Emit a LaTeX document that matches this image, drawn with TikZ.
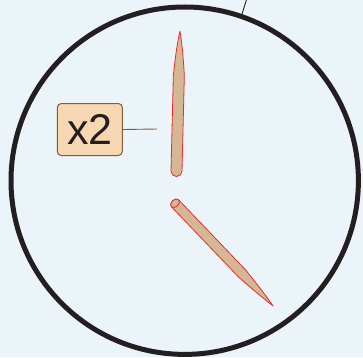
\documentclass[tikz,border=0pt]{standalone}
\usepackage{fontspec}
\setmainfont{Liberation Sans}
\definecolor{bgblue}{HTML}{EAF4F9}
\definecolor{inkdark}{HTML}{231F20}
\definecolor{handtan}{HTML}{D4B896}
\definecolor{handred}{HTML}{EE2A2A}
\definecolor{tagfill}{HTML}{F7D7B2}
\definecolor{tagbrown}{HTML}{8A5A30}
\tikzset{
  hand/.style={fill=handtan,draw=handred,line width=0.8pt,line join=round},
  tag/.style={draw=tagbrown,fill=tagfill,text=inkdark,line width=1pt,rounded corners=4pt,
    minimum width=65pt,minimum height=52pt,inner sep=0pt,font=\fontsize{43}{43}\selectfont}
}
\begin{document}
\begin{tikzpicture}[x=1pt,y=1pt]
  \fill[bgblue] (0,0) rectangle (363,357);
  \useasboundingbox (0,0) rectangle (363,357);
  \node[circle,draw=inkdark,line width=5pt,minimum size=347.4pt,outer sep=0pt,inner sep=0pt] (dial) at (184.7,176.3) {};
  \coordinate (top) at (247,359);
  \draw[inkdark,line width=0.9pt] (dial.71.4) -- (top);
  % minute hand
  \begin{scope}[shift={(176.5,186)},rotate=88.6]
    \draw[hand] (0,5.5) -- (95,5.5) .. controls (115,4) and (130,2) .. (140,0)
      .. controls (130,-2) and (115,-4) .. (95,-5.5) -- (0,-5.5) arc[start angle=-90,end angle=-270,radius=5.5] -- cycle;
  \end{scope}
  % hour hand
  \begin{scope}[shift={(175,153.7)},rotate=-46.3]
    \draw[hand] (0,5) -- (97,5) .. controls (115,3.5) and (130,1.8) .. (142,0)
      .. controls (130,-1.8) and (115,-3.5) .. (97,-5) -- (0,-5) arc[start angle=-90,end angle=-270,x radius=3.5,y radius=5] -- cycle;
    \draw[hand] (0,0) ellipse[x radius=3.5,y radius=5];
  \end{scope}
  % label
  \node[tag] (twice) at (89.8,227.5) {x2};
  \coordinate (pin) at (157,228);
  \draw[tagbrown,line width=0.9pt] (twice.east) -- (pin);
\end{tikzpicture}
\end{document}
